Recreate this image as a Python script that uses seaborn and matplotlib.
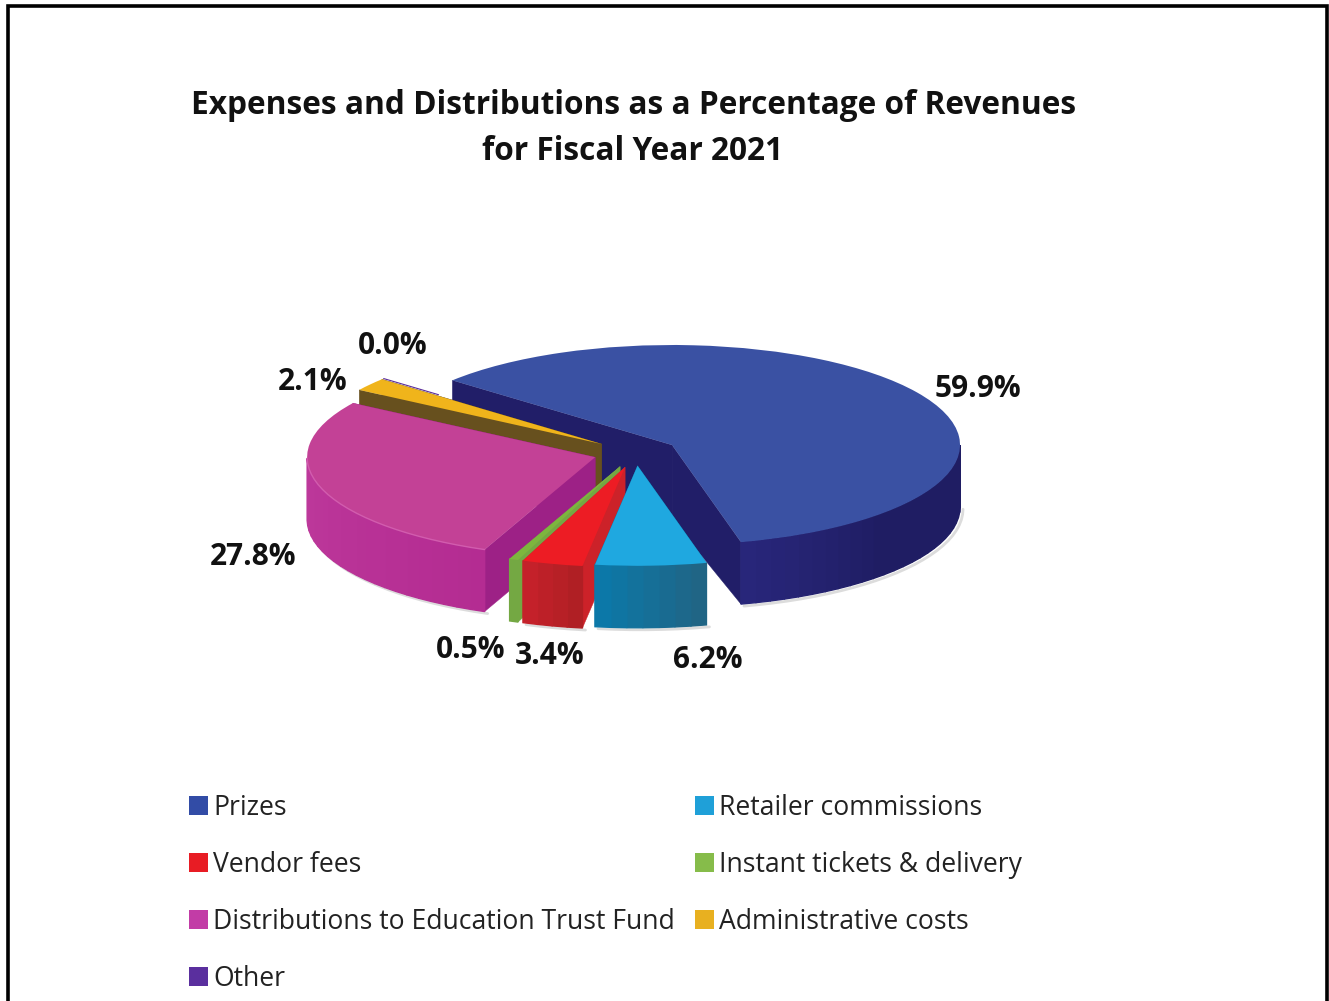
import numpy as np
import seaborn as sns
from matplotlib import pyplot as plt
from matplotlib.patches import Patch, Rectangle

categories = ['Prizes', 'Retailer commissions', 'Vendor fees', 'Instant tickets & delivery',
              'Distributions to Education Trust Fund', 'Administrative costs', 'Other']
values = [59.9, 6.2, 3.4, 0.5, 27.8, 2.1, 0.0]

top_colors = ['#3A51A3', '#1FA8E0', '#ED1C24', '#7DB63E', '#C34196', '#F0B41B', '#5B2C9A']
wall_left = ['#28267A', '#0C78A8', '#C4212A', '#74A843', '#C23FA0', '#67501E', '#4A2480']
wall_right = ['#1F1D63', '#206585', '#B01F24', '#74A843', '#B42C92', '#67501E', '#4A2480']
cut_colors = ['#211E68', '#0C78A8', '#CC2229', '#74A843', '#9D2186', '#67501E', '#4A2480']
legend_colors = ['#324CA6', '#1FA0D8', '#E81C24', '#86BC4A', '#C23CA6', '#E8B020', '#5A2F9E']

# back to front
draw_rank = [0, 6, 5, 4, 3, 2, 1]

explode = [0.148, 0.13, 0.148, 0.148, 0.148, 0.148, 0.148]
depth = 0.62
start_angle = 139.7

# pixel layout of the original
W, H = 1329, 1001
CX, CY = 635.8, 452.8
RX, RY = 288.0, 100.0
label_px = [(978, 389), (708, 660), (550, 656), (471, 650), (253, 557), (313, 382), (393, 346)]

sns.set_theme(style='white')
plt.rcParams['font.family'] = ['Open Sans', 'DejaVu Sans']

fig = plt.figure(figsize=(W / 100, H / 100), dpi=100, facecolor='white')
ax = fig.add_axes([0, 0, 1, 1])

wedges, _ = ax.pie(values, colors=top_colors, startangle=start_angle, counterclock=False,
                   explode=explode, wedgeprops={'linewidth': 0})
ax.set_aspect('auto')
ax.set_xlim(-CX / RX, (W - CX) / RX)
ax.set_ylim((CY - H) / RY, CY / RY)
ax.axis('off')

shares = np.array(values) / sum(values) * 360
ends = start_angle - np.cumsum(shares)
starts = ends + shares

for i, wedge in enumerate(wedges):
    z = draw_rank[i] * 10
    wedge.set_zorder(z + 2)
    mid = np.radians((starts[i] + ends[i]) / 2)
    ox, oy = explode[i] * np.cos(mid), explode[i] * np.sin(mid)

    if values[i] == 0:
        a = np.radians(starts[i])
        ax.plot([ox + 0.75 * np.cos(a), ox + np.cos(a)], [oy + 0.75 * np.sin(a), oy + np.sin(a)],
                color=top_colors[i], lw=0.8, zorder=z + 2)
    else:
        # cut faces from the apex to both rim ends, prizes sags a bit towards the middle
        sag = depth * 1.2 if i == 0 else depth
        for a in (starts[i], ends[i]):
            rx, ry = ox + np.cos(np.radians(a)), oy + np.sin(np.radians(a))
            ax.fill([ox, rx, rx, ox], [oy, ry, ry - depth, oy - sag],
                    color=cut_colors[i], lw=0.3, zorder=z)

    # outer wall, one strip per step so the shade can drift along the arc
    steps = max(int(shares[i] / 3), 1)
    arc = np.radians(np.linspace(starts[i], ends[i], steps + 1))
    stops = [wall_right[i], wall_left[i]]
    if i == 0:
        stops = [wall_right[i]] * 7 + [wall_left[i]]
    shades = sns.blend_palette(stops, steps)
    xs, ys = ox + np.cos(arc), oy + np.sin(arc)
    for k in range(steps):
        if np.sin(arc[k]) + np.sin(arc[k + 1]) > 0:
            continue
        ax.fill([xs[k], xs[k + 1], xs[k + 1], xs[k]],
                [ys[k], ys[k + 1], ys[k + 1] - depth, ys[k] - depth],
                facecolor=shades[k], edgecolor=shades[k], lw=1, zorder=z + 1)
    low = np.sin(arc) < 0.02
    if shares[i] > 5 and low.any():
        ax.plot(xs[low] + 3 / RX, ys[low] - depth - 2 / RY, color='0.55', lw=2, alpha=0.3, zorder=-1)
    if i == 4:
        ax.plot(xs[low], ys[low], color='#D25CAE', lw=1, zorder=z + 3)

    px, py = label_px[i]
    ax.text((px - CX) / RX, (CY - py) / RY, f'{values[i]:.1f}%', ha='center', va='center',
            fontsize=21.5, fontweight='bold', color='#111111', zorder=100)

fig.text(634 / W, 1 - 105 / H, 'Expenses and Distributions as a Percentage of Revenues',
         ha='center', va='center', fontsize=22.75, fontweight='bold', color='#111111')
fig.text(633 / W, 1 - 151 / H, 'for Fiscal Year 2021',
         ha='center', va='center', fontsize=22.75, fontweight='bold', color='#111111')

# the legend fills by column, the original reads by row
order = [0, 2, 4, 6, 1, 3, 5]
handles = [Patch(facecolor=legend_colors[j], edgecolor='none') for j in order]
fig.legend(handles, [categories[j] for j in order], ncol=2, loc='upper left',
           bbox_to_anchor=(189 / W, 1 - 794 / H), frameon=False, fontsize=19.1,
           handlelength=0.72, handleheight=0.72, handletextpad=0.2, labelspacing=1.09,
           columnspacing=0.75, labelcolor='#222222', borderaxespad=0, borderpad=0)

fig.add_artist(Rectangle((7.5 / W, -0.05), (1327 - 7.5) / W, 1.05 - 5.5 / H, transform=fig.transFigure,
                         fill=False, edgecolor='black', lw=2.6))

fig.savefig('out.png', dpi=100)
